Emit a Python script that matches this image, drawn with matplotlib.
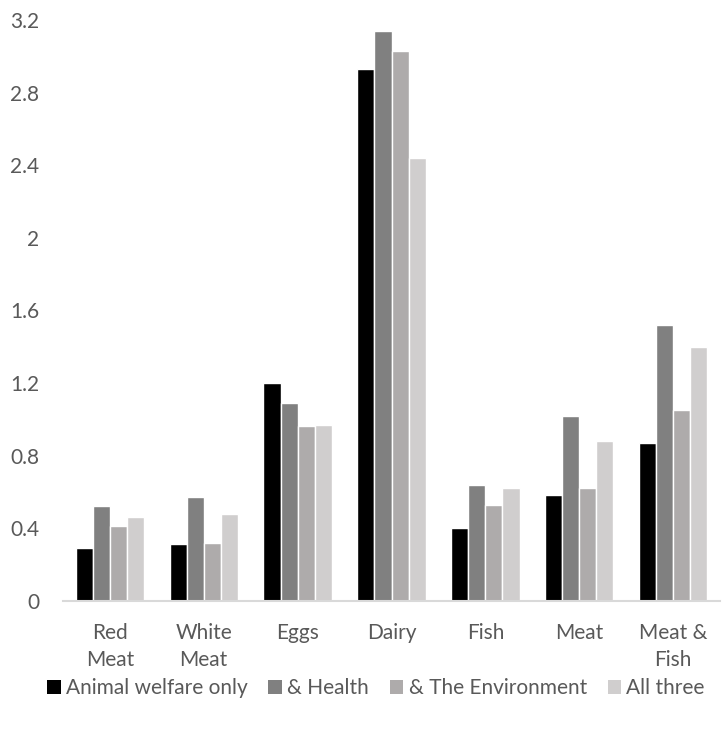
import matplotlib
matplotlib.use("Agg")
import matplotlib.pyplot as plt
import numpy as np
from matplotlib.ticker import FuncFormatter

categories = ["Red\nMeat", "White\nMeat", "Eggs", "Dairy", "Fish", "Meat", "Meat &\nFish"]
series_names = ["Animal welfare only", "& Health", "& The Environment", "All three"]
animal_welfare = [0.29, 0.31, 1.20, 2.93, 0.40, 0.58, 0.87]
health = [0.52, 0.57, 1.09, 3.14, 0.64, 1.02, 1.52]
environment = [0.41, 0.32, 0.96, 3.03, 0.53, 0.62, 1.05]
all_three = [0.46, 0.48, 0.97, 2.44, 0.62, 0.88, 1.40]
yticks = [0, 0.4, 0.8, 1.2, 1.6, 2, 2.4, 2.8, 3.2]

colors = ["#000000", "#808080", "#AEABAB", "#D0CECE"]
series = [animal_welfare, health, environment, all_three]

plt.rcParams['font.family'] = ['Lato', 'DejaVu Sans']

fig = plt.figure(figsize=(7.23, 7.29), dpi=100)
ax = fig.add_axes([0.087, 0.176, 0.909, 0.7966])

x = np.arange(len(categories))
pitch = 0.182
for i, (vals, c, name) in enumerate(zip(series, colors, series_names)):
    ax.bar(x + (i - 1.5) * pitch, vals, width=pitch, color=c,
           edgecolor="white", linewidth=1.0, label=name, zorder=2)

ax.set_xlim(-0.5, len(categories) - 0.5)
ax.set_ylim(0, 3.2)
ax.set_yticks(yticks)
ax.yaxis.set_major_formatter(FuncFormatter(lambda v, p: "%g" % v))
ax.set_xticks(x)
ax.set_xticklabels(categories, linespacing=1.45)

for s in ["top", "right", "left"]:
    ax.spines[s].set_visible(False)
ax.spines["bottom"].set_color("#D9D9D9")
ax.spines["bottom"].set_linewidth(1.5)

ax.tick_params(axis="y", length=0, pad=17, labelsize=15, labelcolor="#595959")
ax.tick_params(axis="x", length=0, pad=16, labelsize=15, labelcolor="#595959")

leg = fig.legend(loc="center", bbox_to_anchor=(0.52, 0.056), ncol=4, frameon=False,
                 fontsize=15, handlelength=0.65, handleheight=0.65,
                 handletextpad=0.25, columnspacing=1.0, labelcolor="#595959")
for h in leg.legend_handles:
    h.set_edgecolor("none")

fig.savefig("out.png", dpi=100)
